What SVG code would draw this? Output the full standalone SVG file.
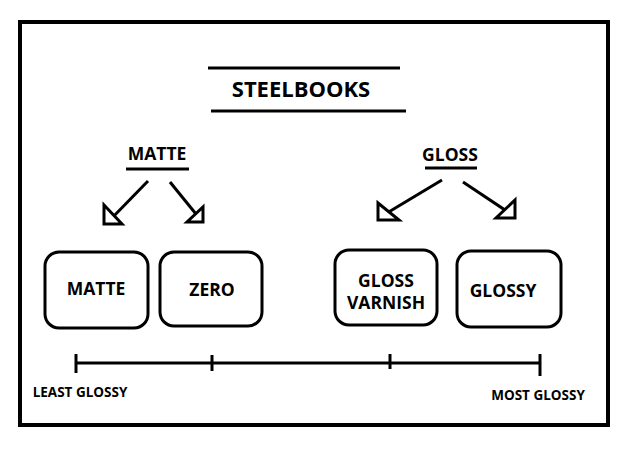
<svg xmlns="http://www.w3.org/2000/svg" width="617" height="451" viewBox="0 0 617 451">
<style>
text{font-family:"Open Sans","Liberation Sans",sans-serif;font-weight:bold;fill:#000;text-anchor:middle}
.t{font-size:17.5px}
.s{font-size:13.5px}
.b{fill:#fff;stroke:#000;stroke-width:3}
.l{stroke:#000;stroke-width:3;fill:none}
.h{fill:#fff;stroke:#000;stroke-width:3;stroke-linejoin:miter}
</style>
<rect width="617" height="451" fill="#fff"/>
<rect x="20" y="22" width="588" height="403" fill="none" stroke="#000" stroke-width="4"/>
<g id="title">
<line class="l" x1="208" y1="68" x2="400" y2="68"/>
<text x="301" y="97" style="font-size:22px">STEELBOOKS</text>
<line class="l" x1="211" y1="111" x2="406" y2="111"/>
</g>
<g id="matte-head"><text class="t" x="157" y="160">MATTE</text><line class="l" x1="126" y1="169" x2="189" y2="169"/></g>
<g id="gloss-head"><text class="t" x="450" y="161">GLOSS</text><line class="l" x1="425" y1="168" x2="477" y2="168"/></g>
<g id="connectors">
<line class="l" x1="148" y1="181" x2="110" y2="220"/>
<polygon class="h" points="104,205 104,224 122,224"/>
<line class="l" x1="170" y1="182" x2="200" y2="219"/>
<polygon class="h" points="203,207 203,222 187,222"/>
<line class="l" x1="442" y1="180" x2="382" y2="216"/>
<polygon class="h" points="378,203 378,220 399,220"/>
<line class="l" x1="463" y1="182" x2="511" y2="214"/>
<polygon class="h" points="515,200 515,218 496,218"/>
</g>
<g id="n-matte"><rect class="b" x="45" y="252" width="103" height="76" rx="14"/><text class="t" x="96" y="295">MATTE</text></g>
<g id="n-zero"><rect class="b" x="160" y="252" width="102" height="74" rx="14"/><text class="t" x="212" y="296">ZERO</text></g>
<g id="n-varnish"><rect class="b" x="335" y="250" width="102" height="75" rx="14"/><text class="t" x="386" y="287">GLOSS</text><text class="t" x="386" y="309">VARNISH</text></g>
<g id="n-glossy"><rect class="b" x="457" y="251" width="104" height="76" rx="14"/><text class="t" x="503" y="297">GLOSSY</text></g>
<g id="scale">
<line class="l" x1="76" y1="363" x2="540" y2="363"/>
<line class="l" x1="76" y1="354" x2="76" y2="373"/>
<line class="l" x1="212" y1="355" x2="212" y2="371"/>
<line class="l" x1="390" y1="354" x2="390" y2="369"/>
<line class="l" x1="540" y1="354" x2="540" y2="376"/>
<text class="s" x="80" y="397">LEAST GLOSSY</text>
<text class="s" x="538" y="400">MOST GLOSSY</text>
</g>
</svg>
